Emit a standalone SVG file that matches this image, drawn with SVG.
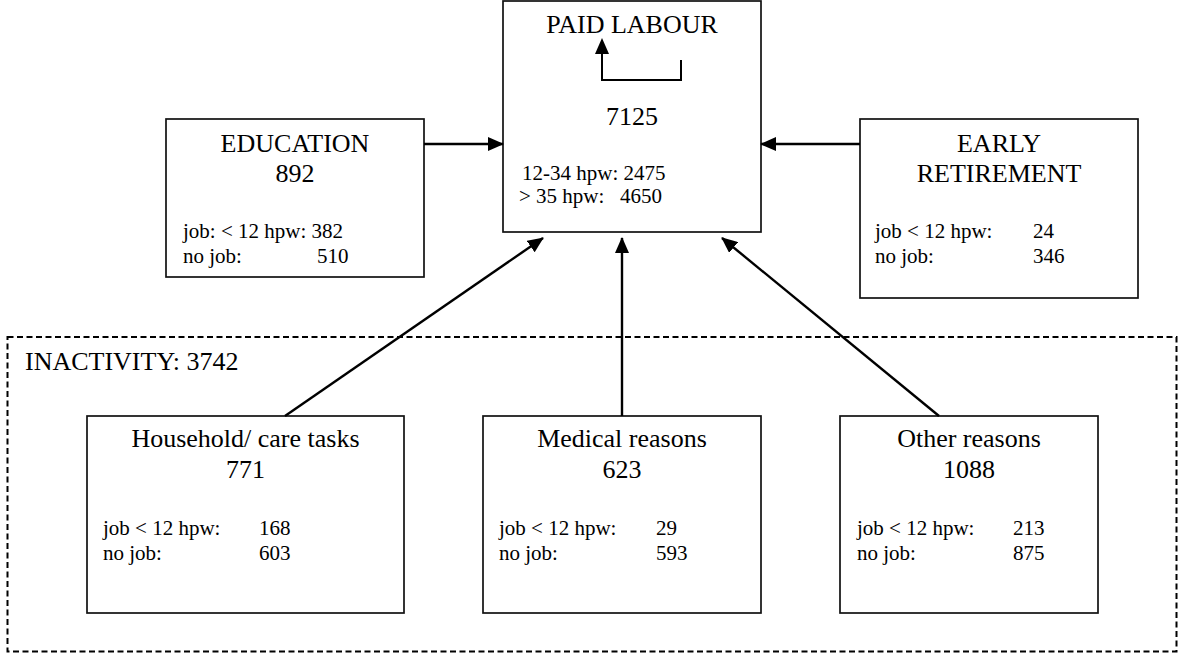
<svg xmlns="http://www.w3.org/2000/svg" width="1179" height="653" viewBox="0 0 1179 653">
<style>
.box{fill:#fff;stroke:#111;stroke-width:1.7}
.t{font-family:"Liberation Serif","Times New Roman",serif;fill:#000}
.big{font-size:26px}
.sm{font-size:21px}
.mid{text-anchor:middle}
.con{stroke:#000;stroke-width:2.4;fill:none}
</style>
<defs>
<marker id="ah" markerUnits="userSpaceOnUse" markerWidth="16" markerHeight="14" refX="15" refY="7" orient="auto">
<path d="M0,0 L16,7 L0,14 z" fill="#000"/>
</marker>
</defs>
<rect width="1179" height="653" fill="#fff"/>

<g id="inactivity">
<rect x="7.5" y="337" width="1169" height="314.5" fill="none" stroke="#000" stroke-width="2" stroke-dasharray="6,3.5"/>
<text class="t big" x="25" y="370">INACTIVITY: 3742</text>
</g>

<g id="paid-labour">
<rect class="box" x="503" y="1" width="258" height="231"/>
<text class="t big mid" x="632" y="33">PAID LABOUR</text>
<path d="M681,60 V80 H602 V52" fill="none" stroke="#000" stroke-width="2"/>
<path d="M595,54 L602,38 L609,54 z" fill="#000"/>
<text class="t big mid" x="632" y="125">7125</text>
<text class="t sm" x="522" y="180">12-34 hpw: 2475</text>
<text class="t sm" x="519" y="203">&gt; 35 hpw:</text>
<text class="t sm" x="620" y="203">4650</text>
</g>

<g id="education">
<rect class="box" x="166" y="119" width="258" height="158"/>
<text class="t big mid" x="295" y="152">EDUCATION</text>
<text class="t big mid" x="295" y="182">892</text>
<text class="t sm" x="183" y="238">job: &lt; 12 hpw: 382</text>
<text class="t sm" x="183" y="263">no job:</text>
<text class="t sm" x="317" y="263">510</text>
</g>

<g id="early-retirement">
<rect class="box" x="860" y="119" width="278" height="179"/>
<text class="t big mid" x="999" y="152">EARLY</text>
<text class="t big mid" x="999" y="182">RETIREMENT</text>
<text class="t sm" x="875" y="238">job &lt; 12 hpw:</text>
<text class="t sm" x="1033" y="238">24</text>
<text class="t sm" x="875" y="263">no job:</text>
<text class="t sm" x="1033" y="263">346</text>
</g>

<g id="household">
<rect class="box" x="87" y="416" width="317" height="197"/>
<text class="t big mid" x="245.5" y="447">Household/ care tasks</text>
<text class="t big mid" x="245.5" y="478">771</text>
<text class="t sm" x="103" y="535">job &lt; 12 hpw:</text>
<text class="t sm" x="259" y="535">168</text>
<text class="t sm" x="103" y="560">no job:</text>
<text class="t sm" x="259" y="560">603</text>
</g>

<g id="medical">
<rect class="box" x="483" y="416" width="278" height="197"/>
<text class="t big mid" x="622" y="447">Medical reasons</text>
<text class="t big mid" x="622" y="478">623</text>
<text class="t sm" x="499" y="535">job &lt; 12 hpw:</text>
<text class="t sm" x="656" y="535">29</text>
<text class="t sm" x="499" y="560">no job:</text>
<text class="t sm" x="656" y="560">593</text>
</g>

<g id="other">
<rect class="box" x="840" y="416" width="258" height="197"/>
<text class="t big mid" x="969" y="447">Other reasons</text>
<text class="t big mid" x="969" y="478">1088</text>
<text class="t sm" x="857" y="535">job &lt; 12 hpw:</text>
<text class="t sm" x="1013" y="535">213</text>
<text class="t sm" x="857" y="560">no job:</text>
<text class="t sm" x="1013" y="560">875</text>
</g>

<g id="connectors">
<line class="con" x1="424" y1="144" x2="503" y2="144" marker-end="url(#ah)"/>
<line class="con" x1="860" y1="144" x2="761" y2="144" marker-end="url(#ah)"/>
<line class="con" x1="285" y1="416" x2="543" y2="238" marker-end="url(#ah)"/>
<line class="con" x1="622" y1="416" x2="622" y2="238" marker-end="url(#ah)"/>
<line class="con" x1="939" y1="416" x2="722" y2="238" marker-end="url(#ah)"/>
</g>
</svg>
